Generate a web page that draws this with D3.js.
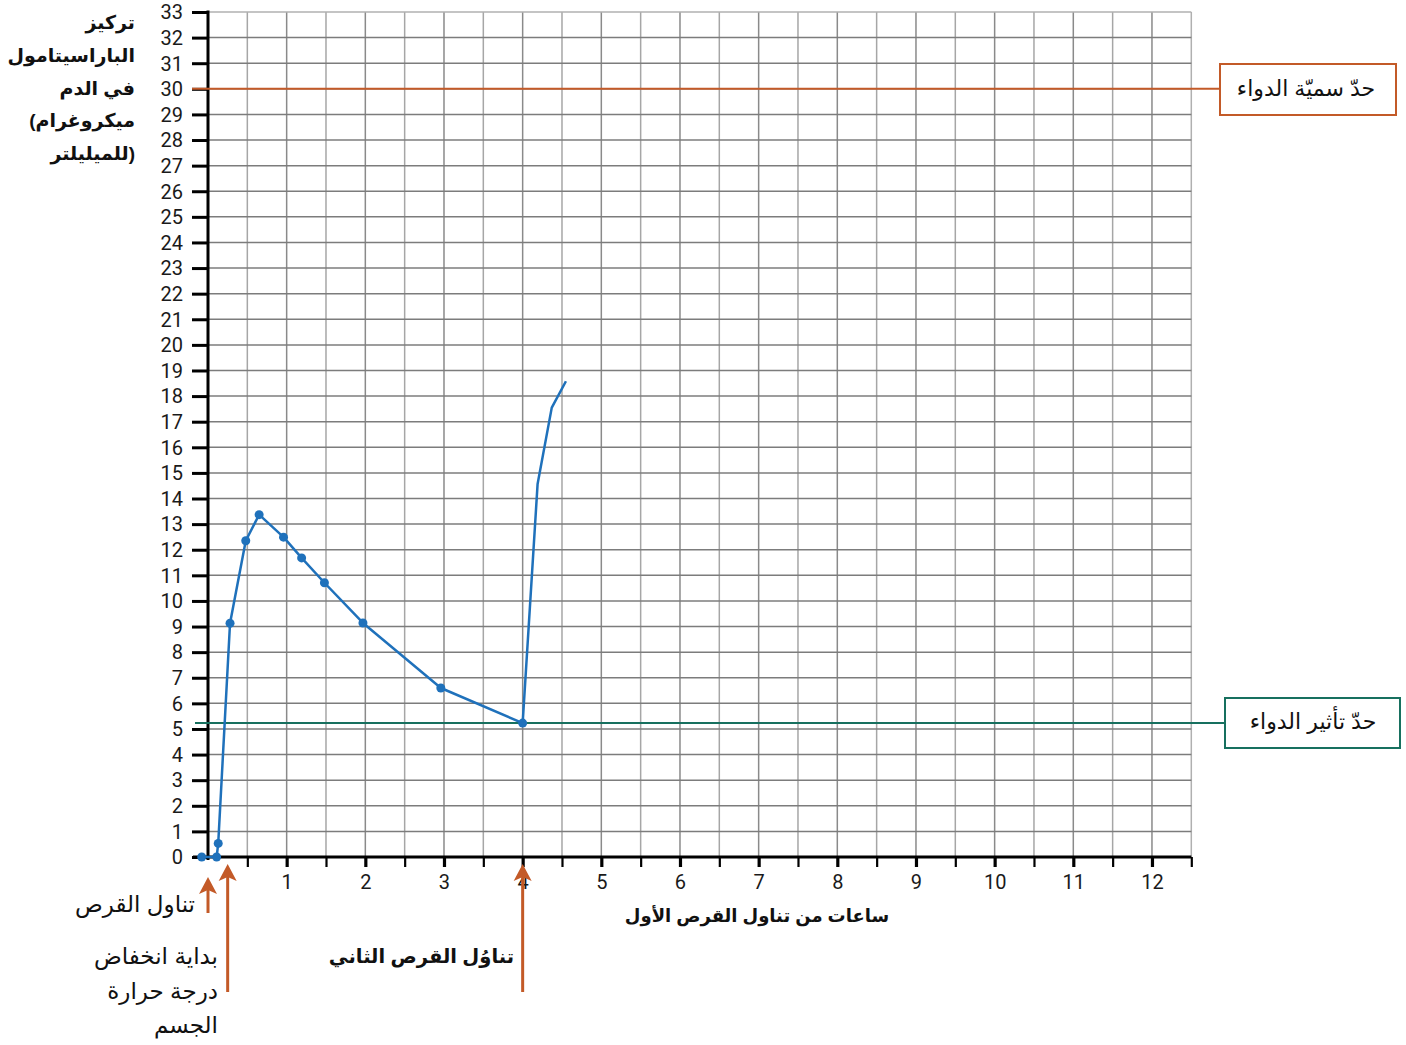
<!DOCTYPE html>
<html lang="ar">
<head>
<meta charset="utf-8">
<script src="https://cdn.jsdelivr.net/npm/d3@7"></script>
<style>
  html, body { margin: 0; padding: 0; background: #fff; }
  svg { display: block; }
  .num { font-family: Roboto, "Liberation Sans", sans-serif; font-size: 20px; fill: #1a1a1a; }
  .ar { font-family: "Liberation Sans", "DejaVu Sans", sans-serif; fill: #111; }
</style>
</head>
<body>
<svg id="chart" width="1406" height="1045"></svg>
<script>
// Paracetamol concentration measured after the first tablet (hours, µg/ml)
const sampleHours = [-0.08, 0.11, 0.13, 0.28, 0.48, 0.65, 0.96, 1.19, 1.48, 1.97, 2.96, 4.0];
const sampleConc  = [0, 0, 0.53, 9.13, 12.35, 13.37, 12.49, 11.68, 10.71, 9.14, 6.6, 5.23];

// Rise after the second tablet (line only, no sample markers)
const secondHours = [4.0, 4.19, 4.37, 4.55];
const secondConc  = [5.23, 14.57, 17.55, 18.58];

// Thresholds
const toxicLimit = 30;
const effectLimit = 5.23;

// Axis ticks
const yTicks = d3.range(0, 34, 1);
const xTicks = d3.range(0, 12.51, 0.5);
const xLabels = d3.range(1, 13, 1);

// Event markers along the time axis
const eventHours = [0, 0.25, 4.0];

const svg = d3.select("#chart");

const x = d3.scaleLinear().domain([0, 12.5]).range([208, 1191.3]);
const y = d3.scaleLinear().domain([0, 33]).range([857, 12]);

const blue = "#1f71bb";
const orange = "#c35a28";
const teal = "#17705f";

// Grid
const grid = svg.append("g");
grid.selectAll("line.v").data(xTicks.filter(d => d > 0)).join("line")
  .attr("x1", d => x(d)).attr("x2", d => x(d))
  .attr("y1", y(33)).attr("y2", y(0))
  .attr("stroke", d => d === 12.5 ? "#b0b0b0" : (Number.isInteger(d) ? "#8a8a8a" : "#a6a6a6"))
  .attr("stroke-width", 1.5);
grid.selectAll("line.h").data(yTicks.filter(d => d > 0)).join("line")
  .attr("x1", x(0)).attr("x2", x(12.5))
  .attr("y1", d => y(d)).attr("y2", d => y(d))
  .attr("stroke", d => d === 33 ? "#b0b0b0" : "#7c7c7c")
  .attr("stroke-width", 1.5);

// Y axis
const yAxis = svg.append("g")
  .attr("transform", `translate(${x(0)},0)`)
  .call(d3.axisLeft(y).tickValues(yTicks).tickSize(16).tickPadding(9).tickFormat(d3.format("d")));
yAxis.select(".domain").remove();
yAxis.selectAll(".tick line").attr("stroke", "#000").attr("stroke-width", 3);
yAxis.selectAll(".tick text").attr("class", "num").attr("dy", "0.34em");

// X axis
const xAxis = svg.append("g")
  .attr("transform", `translate(0,${y(0)})`)
  .call(d3.axisBottom(x).tickValues(xTicks.filter(d => d > 0)).tickSize(10).tickPadding(5)
    .tickFormat(d => Number.isInteger(d) && xLabels.includes(d) ? d : ""));
xAxis.select(".domain").remove();
xAxis.selectAll(".tick line").attr("stroke", "#000")
  .attr("stroke-width", d => Number.isInteger(d) ? 3.2 : 2.2);
xAxis.selectAll(".tick text").attr("class", "num").attr("dy", "0.85em");

// Axis lines
svg.append("line").attr("x1", 193).attr("x2", x(12.5)).attr("y1", y(0)).attr("y2", y(0))
  .attr("stroke", "#000").attr("stroke-width", 3);
svg.append("line").attr("x1", x(0)).attr("x2", x(0)).attr("y1", y(33) - 1.5).attr("y2", y(0) + 3)
  .attr("stroke", "#000").attr("stroke-width", 3);

// Threshold lines and their labels
svg.append("line").attr("x1", 192).attr("x2", 1220).attr("y1", y(toxicLimit)).attr("y2", y(toxicLimit))
  .attr("stroke", orange).attr("stroke-width", 2);
svg.append("line").attr("x1", 195).attr("x2", 1225).attr("y1", y(effectLimit)).attr("y2", y(effectLimit))
  .attr("stroke", teal).attr("stroke-width", 2);

svg.append("rect").attr("x", 1220).attr("y", 64).attr("width", 176).attr("height", 51)
  .attr("fill", "#fff").attr("stroke", orange).attr("stroke-width", 2);
svg.append("text").attr("class", "ar").attr("x", 1306).attr("y", 88).attr("dy", "0.35em")
  .attr("text-anchor", "middle").attr("font-size", 22).text("حدّ سميّة الدواء");

svg.append("rect").attr("x", 1225).attr("y", 698).attr("width", 175).attr("height", 50)
  .attr("fill", "#fff").attr("stroke", teal).attr("stroke-width", 2);
svg.append("text").attr("class", "ar").attr("x", 1313).attr("y", 721).attr("dy", "0.35em")
  .attr("text-anchor", "middle").attr("font-size", 22).text("حدّ تأثير الدواء");

// Concentration curve
const line = d3.line().x(d => x(d[0])).y(d => y(d[1]));
const firstPts = sampleHours.map((h, i) => [h, sampleConc[i]]);
const secondPts = secondHours.map((h, i) => [h, secondConc[i]]);
svg.append("path").datum(firstPts).attr("d", line)
  .attr("fill", "none").attr("stroke", blue).attr("stroke-width", 2.5).attr("stroke-linejoin", "round");
svg.append("path").datum(secondPts).attr("d", line)
  .attr("fill", "none").attr("stroke", blue).attr("stroke-width", 2.5).attr("stroke-linejoin", "round");
svg.selectAll("circle.pt").data(firstPts).join("circle")
  .attr("cx", d => x(d[0])).attr("cy", d => y(d[1])).attr("r", 4.5).attr("fill", blue);

// Event arrows below the time axis
const arrowSpecs = [
  { h: eventHours[0], tip: 877, base: 913 },
  { h: eventHours[1], tip: 864, base: 992 },
  { h: eventHours[2], tip: 864, base: 992 }
];
arrowSpecs.forEach(a => {
  const cx = x(a.h);
  svg.append("line").attr("x1", cx).attr("x2", cx).attr("y1", a.tip + 12).attr("y2", a.base)
    .attr("stroke", orange).attr("stroke-width", 3);
  svg.append("path")
    .attr("d", `M${cx},${a.tip} L${cx + 9},${a.tip + 17} L${cx},${a.tip + 13} L${cx - 9},${a.tip + 17} Z`)
    .attr("fill", orange);
});

// Arrow captions
svg.append("text").attr("class", "ar").attr("x", 195).attr("y", 904).attr("dy", "0.35em")
  .attr("text-anchor", "end").attr("font-size", 23).text("تناول القرص");
[["بداية انخفاض", 956], ["درجة حرارة", 991], ["الجسم", 1025]].forEach(([t, yy]) => {
  svg.append("text").attr("class", "ar").attr("x", 218).attr("y", yy).attr("dy", "0.35em")
    .attr("text-anchor", "end").attr("font-size", 23).text(t);
});
svg.append("text").attr("class", "ar").attr("x", 514).attr("y", 956).attr("dy", "0.35em")
  .attr("text-anchor", "end").attr("font-size", 19.5).attr("font-weight", "bold").text("تناوُل القرص الثاني");

// Axis titles
svg.append("text").attr("class", "ar").attr("x", 757).attr("y", 916).attr("dy", "0.35em")
  .attr("text-anchor", "middle").attr("font-size", 18).attr("font-weight", "bold")
  .text("ساعات من تناول القرص الأول");

const yTitle = ["تركيز", "الباراسيتامول", "في الدم", "(ميكروغرام", "للميليلتر)"];
const yTitleY = [22, 55, 88, 120, 153];
yTitle.forEach((t, i) => {
  svg.append("text").attr("class", "ar").attr("x", 135).attr("y", yTitleY[i]).attr("dy", "0.35em")
    .attr("text-anchor", "end").attr("font-size", 19).attr("font-weight", "bold").text(t);
});
</script>
</body>
</html>
